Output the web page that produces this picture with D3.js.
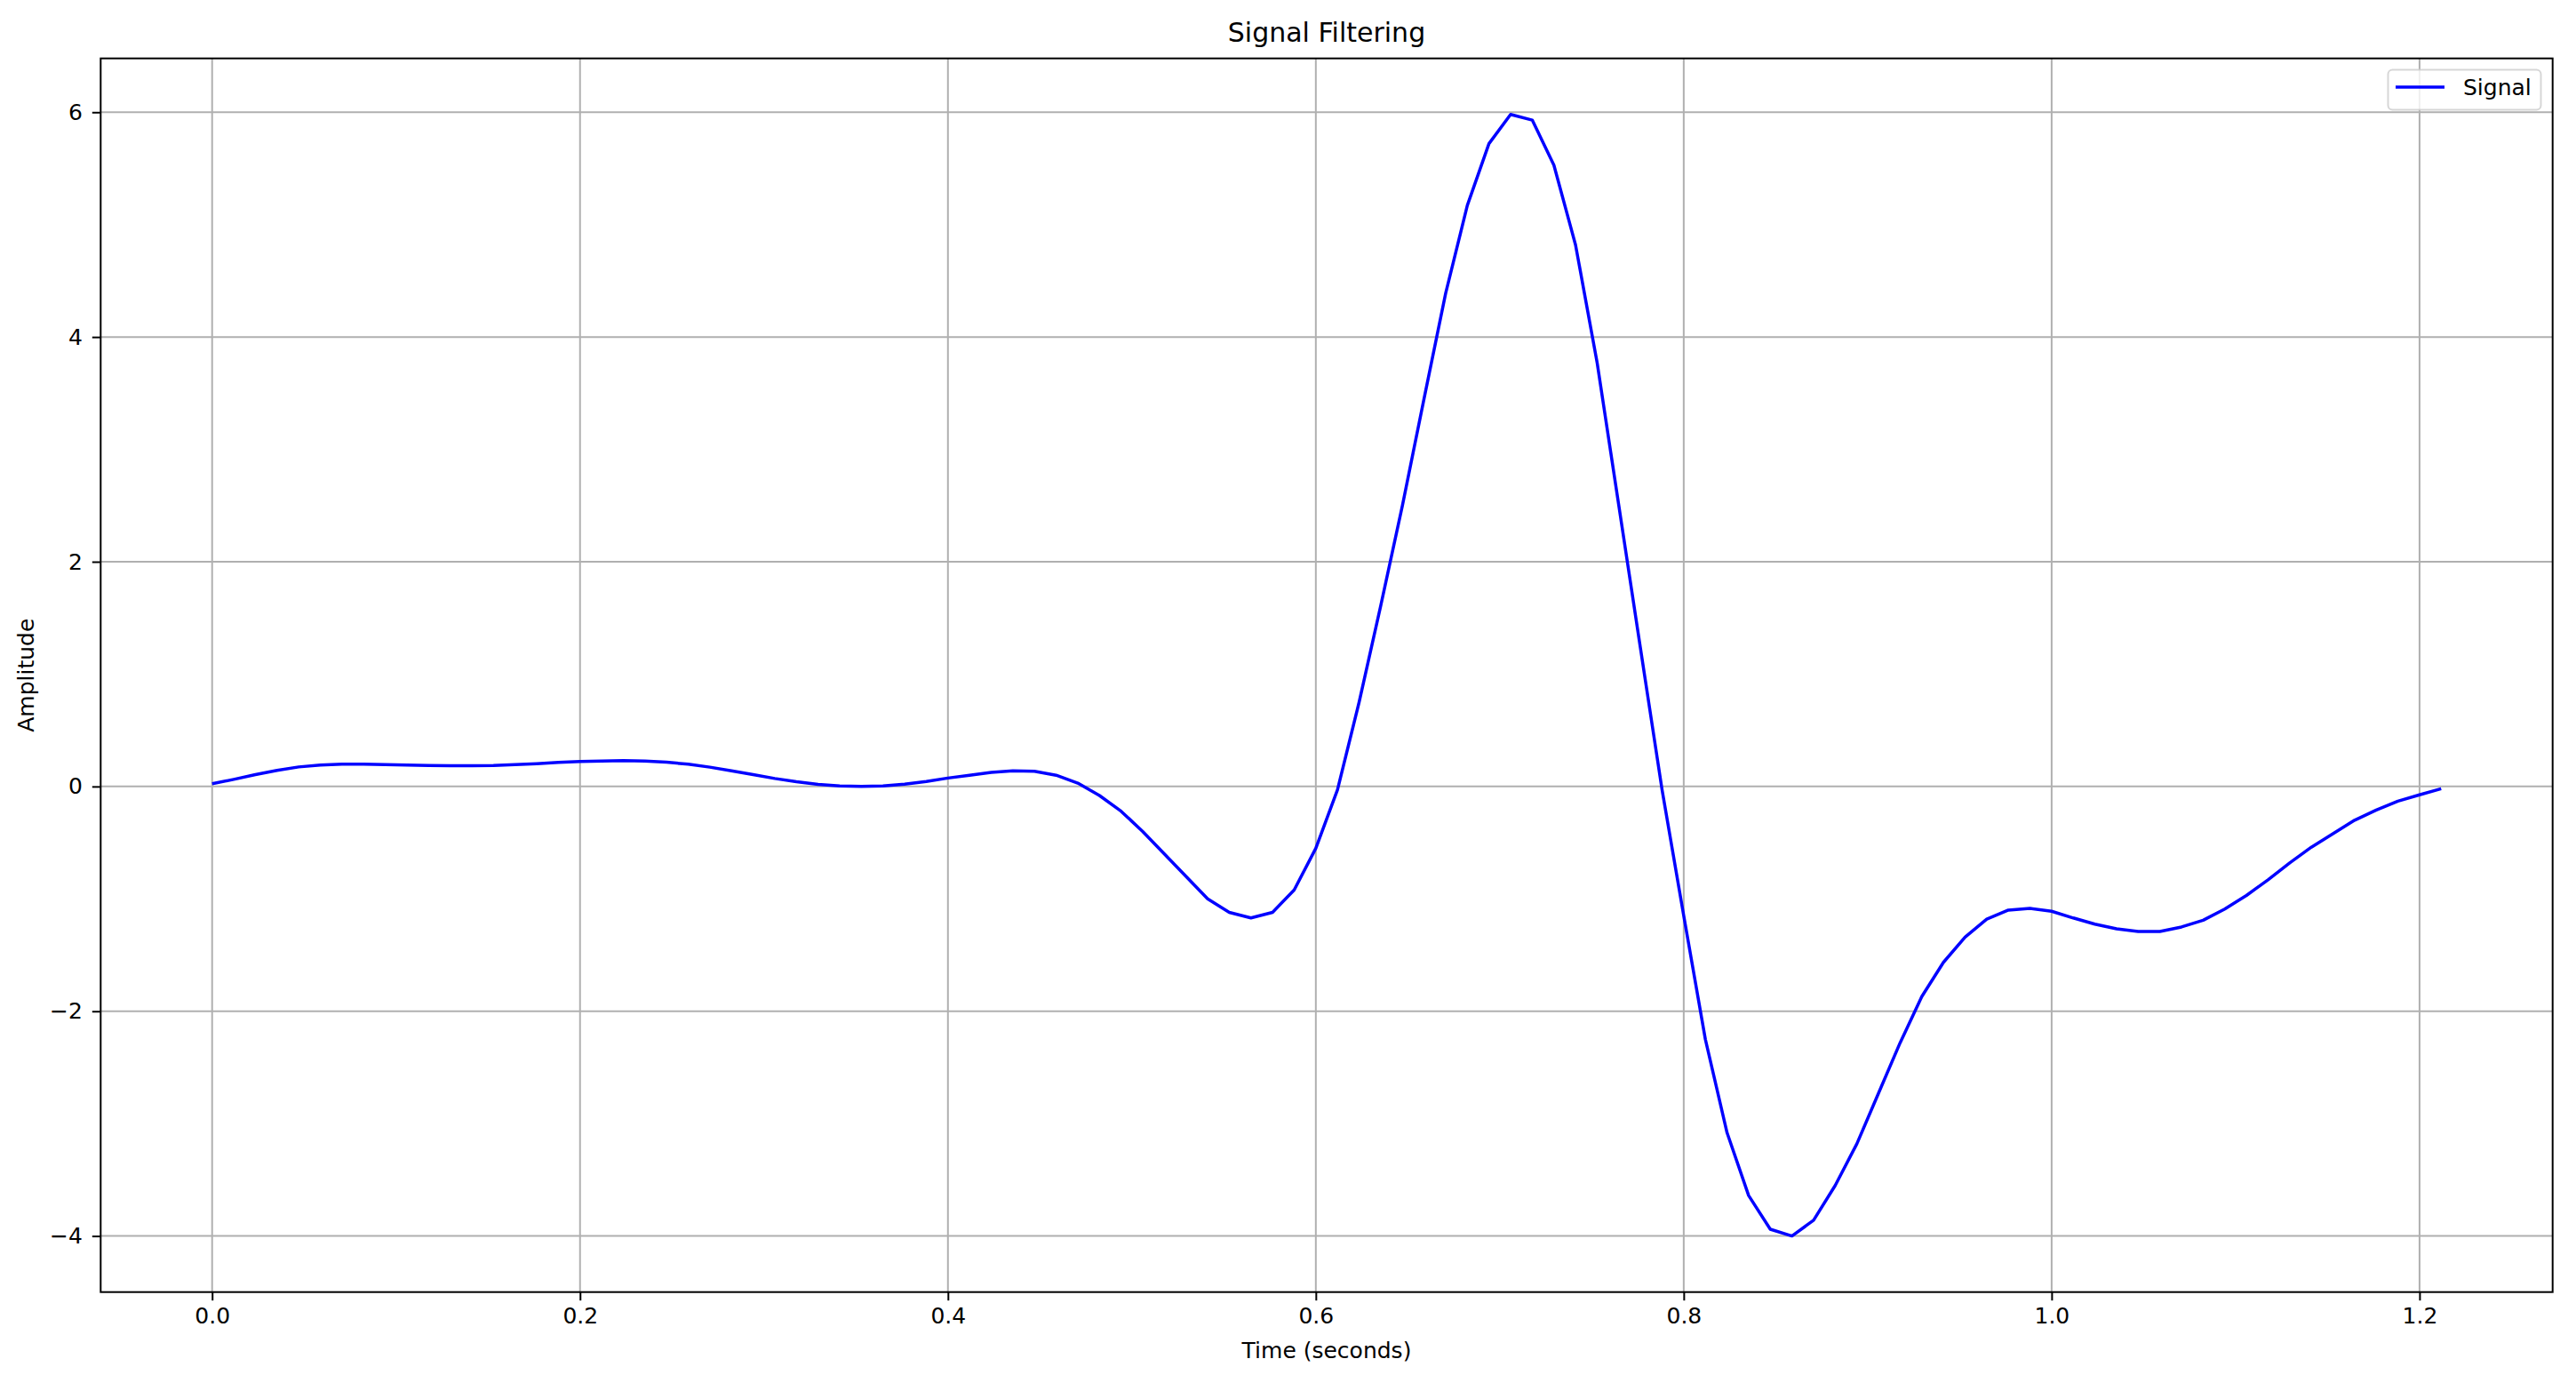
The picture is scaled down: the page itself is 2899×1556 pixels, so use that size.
<!DOCTYPE html>
<html>
<head>
<meta charset="utf-8">
<script src="https://cdn.jsdelivr.net/npm/d3@7"></script>
<style>
  html, body { margin: 0; padding: 0; background: #ffffff; }
  svg { display: block; }
  text { font-family: "DejaVu Sans", sans-serif; fill: #000; }
</style>
</head>
<body>
<svg id="chart" width="2899" height="1556"></svg>
<script>
// ---- data ----
const sampleRate = 85; // samples per second
const signalValues = [
  0.024, 0.063, 0.106, 0.143, 0.174, 0.190, 0.198, 0.198, 0.195, 0.190,
  0.187, 0.185, 0.185, 0.187, 0.195, 0.203, 0.214, 0.222, 0.227, 0.230,
  0.227, 0.216, 0.198, 0.172, 0.140, 0.106, 0.071, 0.042, 0.018, 0.005,
  0.000, 0.005, 0.020, 0.045, 0.075, 0.100, 0.125, 0.140, 0.135, 0.100,
  0.030, -0.080, -0.220, -0.400, -0.600, -0.800, -1.000, -1.120, -1.170, -1.120,
  -0.920, -0.550, -0.030, 0.750, 1.610, 2.500, 3.450, 4.390, 5.170, 5.720,
  5.980, 5.930, 5.530, 4.820, 3.770, 2.500, 1.230, -0.030, -1.150, -2.250,
  -3.080, -3.640, -3.940, -4.000, -3.860, -3.550, -3.180, -2.730, -2.280, -1.870,
  -1.565, -1.340, -1.180, -1.100, -1.085, -1.110, -1.170, -1.225, -1.267, -1.290,
  -1.290, -1.250, -1.190, -1.090, -0.970, -0.830, -0.680, -0.540, -0.420, -0.300,
  -0.210, -0.130, -0.074, -0.020
];
const timeValues = signalValues.map((_, i) => i / sampleRate);
const xTickValues = [0.0, 0.2, 0.4, 0.6, 0.8, 1.0, 1.2];
const yTickValues = [-4, -2, 0, 2, 4, 6];
const titleText = "Signal Filtering";
const xLabelText = "Time (seconds)";
const yLabelText = "Amplitude";
const seriesName = "Signal";

// ---- layout ----
const plot = { left: 113.3, right: 2872.7, top: 65.7, bottom: 1453.7 };
const svg = d3.select("#chart");

// matplotlib-like 5% margins
const tMin = d3.min(timeValues), tMax = d3.max(timeValues);
const vMin = d3.min(signalValues), vMax = d3.max(signalValues);
const tPad = (tMax - tMin) * 0.05, vPad = (vMax - vMin) * 0.05;

const x = d3.scaleLinear().domain([tMin - tPad, tMax + tPad]).range([plot.left, plot.right]);
const y = d3.scaleLinear().domain([vMin - vPad, vMax + vPad]).range([plot.bottom, plot.top]);

const fmtX = d3.format(".1f");
const fmtY = v => (v < 0 ? "\u2212" + Math.abs(v) : String(v));

// grid
const grid = svg.append("g");
grid.selectAll(".gx").data(xTickValues).enter().append("line")
  .attr("x1", d => x(d)).attr("x2", d => x(d))
  .attr("y1", plot.top).attr("y2", plot.bottom)
  .attr("stroke", "#b0b0b0").attr("stroke-width", 2);
grid.selectAll(".gy").data(yTickValues).enter().append("line")
  .attr("x1", plot.left).attr("x2", plot.right)
  .attr("y1", d => y(d)).attr("y2", d => y(d))
  .attr("stroke", "#b0b0b0").attr("stroke-width", 2);

// line
const line = d3.line().x((d, i) => x(timeValues[i])).y(d => y(d));
svg.append("path")
  .datum(signalValues)
  .attr("d", line)
  .attr("fill", "none")
  .attr("stroke", "#0000ff")
  .attr("stroke-width", 3.5)
  .attr("stroke-linejoin", "round")
  .attr("stroke-linecap", "butt");

// axes
const xAxis = d3.axisBottom(x).tickValues(xTickValues).tickFormat(fmtX).tickSize(9.5).tickPadding(8);
const yAxis = d3.axisLeft(y).tickValues(yTickValues).tickFormat(fmtY).tickSize(9.5).tickPadding(11);

const gx = svg.append("g").attr("transform", `translate(0,${plot.bottom})`).call(xAxis);
const gy = svg.append("g").attr("transform", `translate(${plot.left},0)`).call(yAxis);
[gx, gy].forEach(g => {
  g.select(".domain").remove();
  g.selectAll(".tick line").attr("stroke", "#000").attr("stroke-width", 2);
  g.selectAll(".tick text").attr("font-family", "DejaVu Sans").attr("font-size", 25).attr("fill", "#000");
});

// spines
svg.append("rect")
  .attr("x", plot.left).attr("y", plot.top)
  .attr("width", plot.right - plot.left).attr("height", plot.bottom - plot.top)
  .attr("fill", "none").attr("stroke", "#000").attr("stroke-width", 2);

// title and labels
svg.append("text")
  .attr("x", (plot.left + plot.right) / 2).attr("y", 47)
  .attr("text-anchor", "middle").attr("font-size", 30)
  .text(titleText);
svg.append("text")
  .attr("x", (plot.left + plot.right) / 2).attr("y", 1528)
  .attr("text-anchor", "middle").attr("font-size", 25)
  .text(xLabelText);
svg.append("text")
  .attr("transform", `translate(38,${(plot.top + plot.bottom) / 2}) rotate(-90)`)
  .attr("text-anchor", "middle").attr("font-size", 25)
  .text(yLabelText);

// legend
const lg = svg.append("g");
lg.append("rect")
  .attr("x", 2687.5).attr("y", 78.5).attr("width", 172).attr("height", 45)
  .attr("rx", 5).attr("ry", 5)
  .attr("fill", "rgba(255,255,255,0.8)")
  .attr("stroke", "rgba(204,204,204,0.8)").attr("stroke-width", 2);
lg.append("line")
  .attr("x1", 2696).attr("x2", 2751).attr("y1", 98).attr("y2", 98)
  .attr("stroke", "#0000ff").attr("stroke-width", 3.5);
lg.append("text")
  .attr("x", 2772).attr("y", 107).attr("font-size", 25)
  .text(seriesName);
</script>
</body>
</html>
